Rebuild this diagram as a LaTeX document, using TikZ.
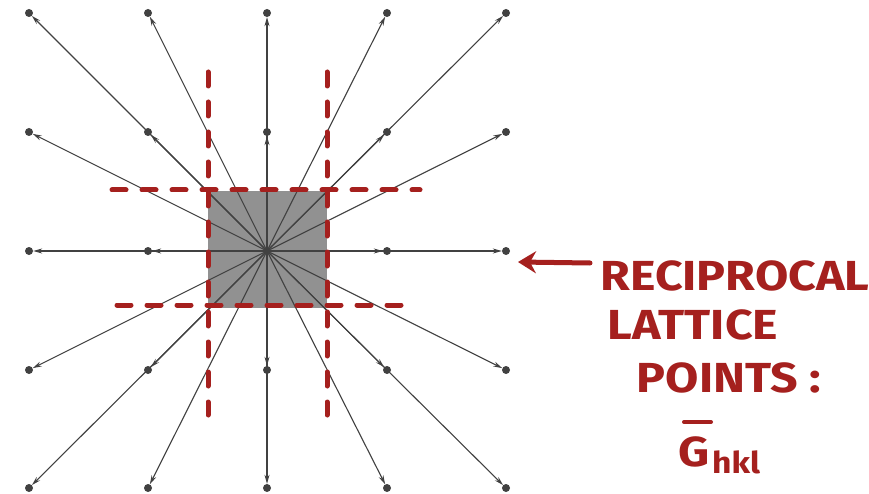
\documentclass[tikz,border=0pt]{standalone}
\usepackage{fontspec}
\newfontfamily\handfont{Fira Sans}
\usetikzlibrary{arrows.meta}
\definecolor{redink}{RGB}{165,32,30}
\definecolor{inkgray}{RGB}{65,65,65}
\definecolor{cellgray}{RGB}{145,145,145}
\tikzset{
  latdot/.style={circle,fill=inkgray,inner sep=0pt,minimum size=8pt},
  vec/.style={draw=inkgray,line width=1.1pt,-{Stealth[length=9pt,width=5pt]}},
  zoneline/.style={draw=redink,line width=5pt,line cap=round,dash pattern=on 14pt off 16pt},
  handtext/.style={text=redink,font=\handfont\bfseries\fontsize{42}{44}\selectfont,inner sep=0pt,xscale=1.15},
  pointer/.style={draw=redink,line width=5pt,line cap=round,-{Stealth[length=18pt,width=22pt,inset=6pt]}}
}
\begin{document}
\begin{tikzpicture}[x=1pt,y=-1pt]
\useasboundingbox (0,0) rectangle (869,494);
\fill[white] (0,0) rectangle (869,494);
% first Brillouin zone
\fill[cellgray] (208,191) rectangle (327,308);
% lattice points
\coordinate (c) at (267,251);
\foreach \i/\x in {-2/29,-1/148,0/267,1/387,2/506}{
  \foreach \j/\y in {-2/13,-1/132,0/251,1/370,2/488}{
    \ifnum\i=0 \ifnum\j=0 \else \node[latdot] (p\i\j) at (\x,\y) {};\fi
    \else \node[latdot] (p\i\j) at (\x,\y) {};\fi
  }
}
\foreach \i in {-2,-1,0,1,2}{
  \foreach \j in {-2,-1,0,1,2}{
    \ifnum\i=0 \ifnum\j=0 \else \draw[vec] (c) -- (p\i\j);\fi
    \else \draw[vec] (c) -- (p\i\j);\fi
  }
}
% zone boundaries
\coordinate (vl1) at (208,72); \coordinate (vl2) at (208,415);
\coordinate (vr1) at (327,72); \coordinate (vr2) at (327,415);
\coordinate (ht1) at (112,190); \coordinate (ht2) at (420,190);
\coordinate (hb1) at (117,305); \coordinate (hb2) at (410,305);
\draw[zoneline] (vl1) -- (vl2);
\draw[zoneline] (vr1) -- (vr2);
\draw[zoneline] (ht1) -- (ht2);
\draw[zoneline] (hb1) -- (hb2);
% label
\node[handtext] (l1) at (735,276) {RECIPROCAL};
\node[handtext] (l2) at (693,325) {LATTICE};
\node[handtext] (l3) at (729,378) {POINTS :};
\node[handtext,anchor=west] (l4) at (678,452) {G};
\draw[redink,line width=4pt,line cap=round] (684,422) -- (711,422);
\node[text=redink,font=\handfont\bfseries\fontsize{30}{32}\selectfont,anchor=west,inner sep=0pt,xscale=1.12] (l5) at (712,462) {hkl};
\coordinate (arrstart) at (590,263);
\coordinate (arrtip) at (518,262);
\draw[pointer] (arrstart) -- (arrtip);
\end{tikzpicture}
\end{document}
